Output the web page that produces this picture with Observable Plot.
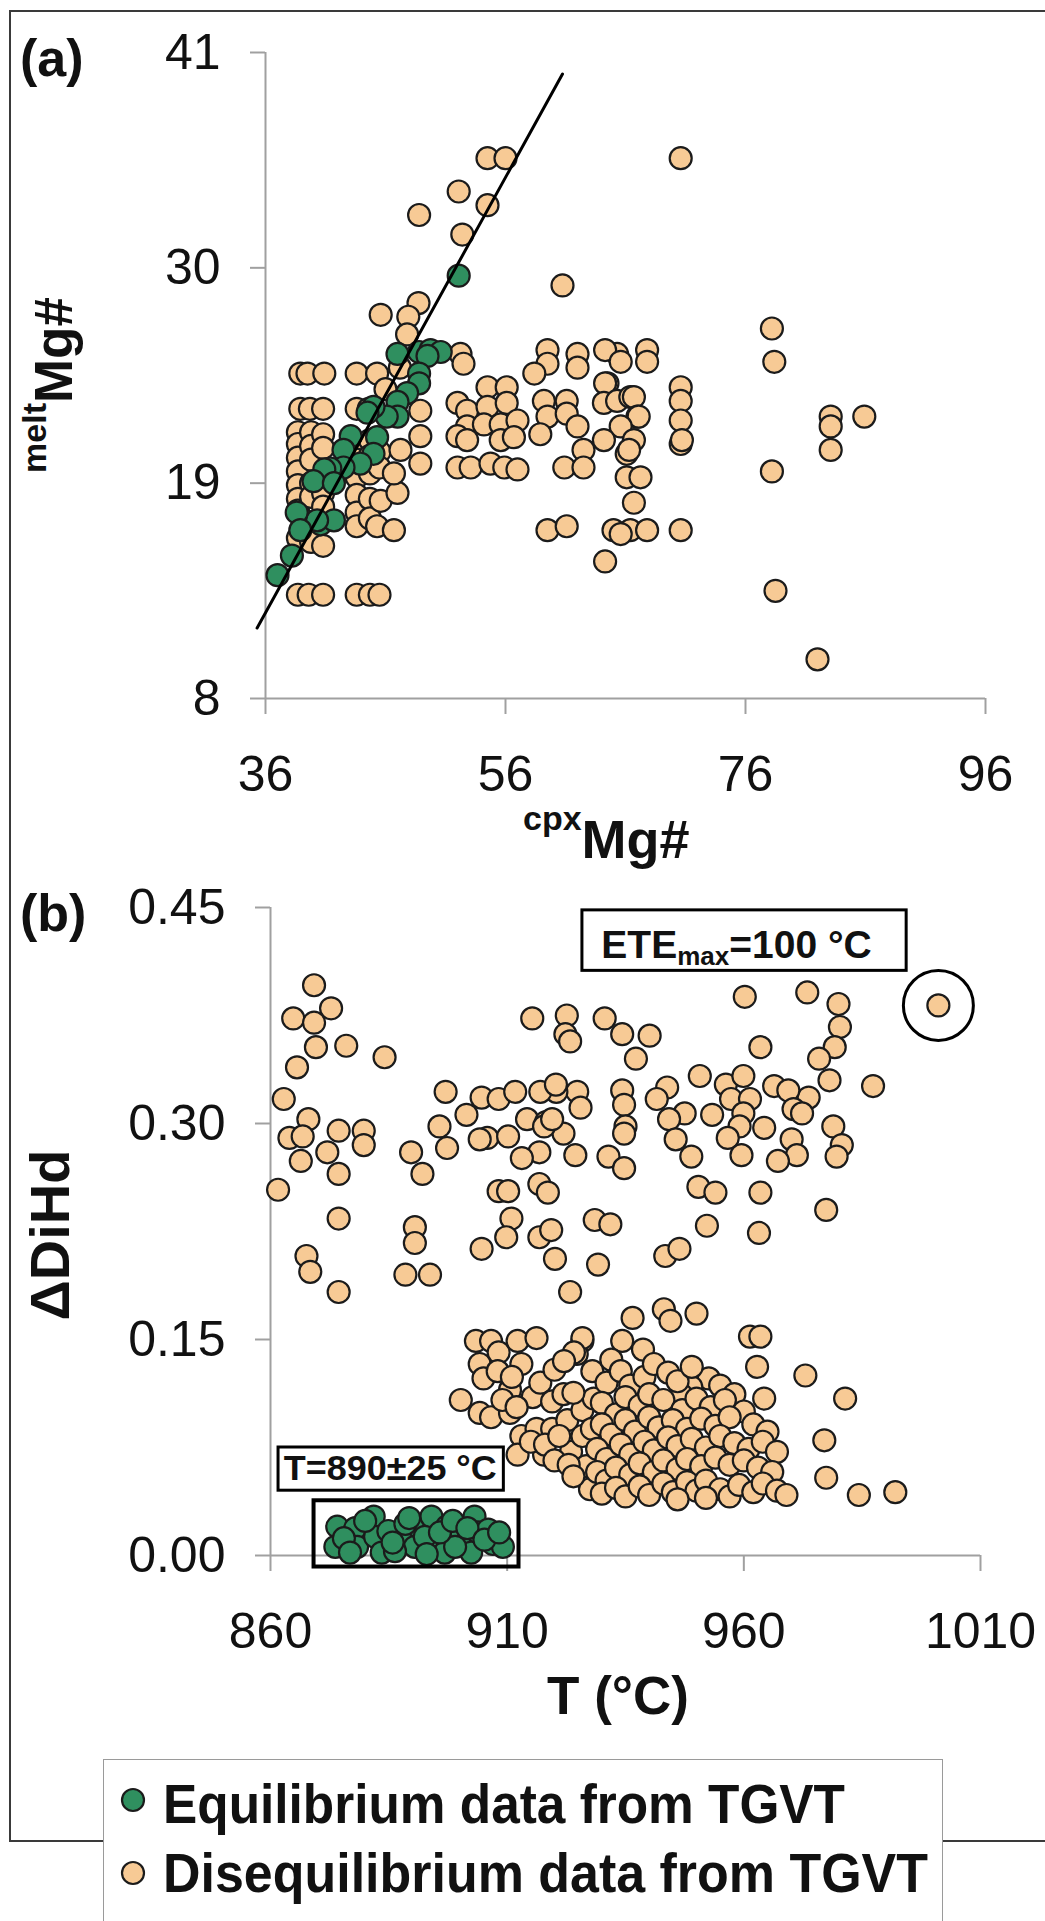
<!DOCTYPE html>
<html><head><meta charset="utf-8">
<script src="https://cdn.jsdelivr.net/npm/d3@7"></script>
<script src="https://cdn.jsdelivr.net/npm/@observablehq/plot@0.6"></script>
<style>
body{margin:0;width:1045px;height:1921px;overflow:hidden;background:#fff;position:relative;font-family:"Liberation Sans",Arial,sans-serif;}
#frame{position:absolute;left:9px;top:10px;width:1200px;height:1832px;border:2.5px solid #3a3a3a;box-sizing:border-box;}
#pa,#pb{position:absolute;left:0;}
#pa{top:0}
#pb{top:850px}
#legendBox{position:absolute;left:103px;top:1759px;width:840px;height:220px;border:1.5px solid #9a9a9a;background:#fff;box-sizing:border-box}
#overlay{position:absolute;left:0;top:0}
</style></head><body>
<div id="frame"></div>
<div id="pa"></div>
<div id="pb"></div>
<div id="legendBox"></div>
<svg id="overlay" width="1045" height="1921"></svg>
<script>
// ---------- DATA ----------
// Panel (a): [cpx Mg#, melt Mg#]
const eqA = [[52.1,29.6],[47.0,25.6],[48.8,25.7],[49.75,25.8],[50.6,25.7],[49.5,25.5],[48.8,24.6],[48.8,24.1],[47.8,23.6],[47.0,23.15],[47.0,22.4],[46.1,22.4],[45.0,22.9],[44.5,22.6],[43.1,21.4],[45.3,21.35],[42.5,20.7],[45.0,20.5],[43.9,20.0],[42.5,19.8],[41.4,19.75],[40.9,19.7],[40.0,19.1],[41.7,19.0],[39.2,17.1],[40.6,16.9],[41.7,17.1],[40.3,17.1],[38.6,17.5],[38.9,16.6],[38.2,15.3],[37.0,14.3]];
const disA = [[54.5,35.6],[56.0,35.6],[70.6,35.6],[52.1,33.9],[54.5,33.2],[48.8,32.7],[52.4,31.7],[60.75,29.1],[48.75,28.2],[45.6,27.6],[47.9,27.5],[47.8,26.6],[52.25,25.6],[52.5,25.1],[78.2,26.9],[78.4,25.2],[83.1,22.4],[83.1,21.9],[83.1,20.7],[85.9,22.4],[78.2,19.6],[78.5,13.5],[82.0,10.0],
[38.9,24.6],[39.5,24.6],[40.9,24.6],[43.6,24.6],[45.3,24.6],
[38.9,22.8],[39.7,22.8],[40.8,22.8],[43.6,22.8],[44.6,22.8],
[38.7,21.6],[38.7,21.0],[38.7,20.3],[38.7,19.6],[38.7,18.9],[38.7,18.2],[38.7,17.6],[38.7,16.2],
[39.8,21.6],[39.8,20.9],[39.8,20.2],[39.8,19.0],[39.8,18.3],[39.8,16.0],
[40.8,21.5],[40.8,20.8],[40.8,18.5],[40.8,17.8],[40.8,15.8],
[43.6,21.0],[43.6,20.2],[43.6,19.3],[43.6,18.4],[43.6,17.5],[43.6,16.8],
[44.7,21.2],[44.7,20.4],[44.7,19.5],[44.7,18.2],[44.7,17.2],
[45.5,20.6],[45.5,19.8],[45.6,18.1],[45.3,16.8],[46.7,16.6],[47.0,18.5],
[38.7,13.3],[39.6,13.3],[40.8,13.3],[43.6,13.3],[44.7,13.3],[45.5,13.3],
[48.9,22.7],[48.9,21.4],[48.9,20.0],[47.25,20.7],[46.7,19.5],[46.0,23.8],[47.2,24.9],
[54.5,23.9],[56.1,23.9],[52.0,23.1],[52.8,22.7],[54.5,22.9],[56.1,23.1],[52.8,21.9],[54.2,22.0],[55.6,22.0],[57.0,22.2],[52.0,21.4],[52.8,21.2],[55.6,21.2],[56.7,21.35],[52.0,19.8],[53.1,19.8],[54.75,20.0],[55.9,19.8],[57.0,19.7],
[59.5,25.8],[59.5,25.1],[62.0,25.6],[62.0,24.9],[65.3,25.6],[67.8,25.8],[67.8,25.2],[64.3,25.8],[65.6,25.2],[58.4,24.6],[64.5,24.1],[64.3,24.1],[59.2,23.2],[61.1,23.2],[59.5,22.4],[61.1,22.55],[58.9,21.5],[62.0,21.9],[64.2,23.1],[65.3,23.2],[66.4,23.4],[66.7,23.4],[67.0,22.4],[67.1,22.4],[65.6,21.9],[66.7,21.2],[62.5,20.7],[64.2,21.2],[60.9,19.8],[62.5,19.8],[66.1,20.5],[66.3,20.7],[66.1,19.3],[67.25,19.3],[66.7,18.0],[70.6,23.9],[70.6,23.2],[70.6,22.2],[70.6,21.0],[70.7,21.2],[59.5,16.6],[61.1,16.8],[65.0,16.6],[66.4,16.6],[67.8,16.6],[70.6,16.6],[65.6,16.4],[64.3,15.0]];
const fitLineA = [[35.3,11.6],[60.75,39.9]];
const xTicksA = [36,56,76,96];
const yTicksA = [8,19,30,41];

// Panel (b): [T (°C), ΔDiHd]
const eqB = [[874.1,0.020],[877.9,0.019],[873.7,0.006],[878.3,0.006],[881.8,0.027],[882.1,0.013],[883.5,0.002],[887.7,0.014],[890.5,0.006],[891.2,0.020],[894.0,0.027],[894.7,0.010],[897.2,0.020],[896.8,0.002],[900.3,0.013],[903.1,0.027],[903.8,0.016],[902.4,0.002],[907.0,0.008],[909.1,0.006],[884.9,0.017],[886.3,0.003],[899.0,0.006],[888.5,0.022],[906.0,0.018],
[875.5,0.012],[880.0,0.024],[885.8,0.009],[889.3,0.026],[892.6,0.013],[895.8,0.016],[898.5,0.024],[901.6,0.019],[905.2,0.011],[908.3,0.016],[876.8,0.002],[893.0,0.001]];
const disBupper = [[869.2,0.396],[872.8,0.380],[864.8,0.373],[869.2,0.370],[869.6,0.353],[876.0,0.354],[884.1,0.346],[865.6,0.339],[862.8,0.317],[868.0,0.303],[864.0,0.290],[866.8,0.291],[866.4,0.274],[872.0,0.280],[874.4,0.295],[879.7,0.295],[879.7,0.285],[874.4,0.265],[861.6,0.254],[874.4,0.234],[889.7,0.280],[892.1,0.265],[890.5,0.228],[890.5,0.217],[867.6,0.208],[868.4,0.197],[888.5,0.195],[893.7,0.195],[874.4,0.183],[897.0,0.322],[895.7,0.298],[897.3,0.283],[901.4,0.306],[904.6,0.318],[908.2,0.317],[905.8,0.290],[904.2,0.289],[908.2,0.253],[904.6,0.213],
[960.2,0.388],[973.4,0.391],[980.0,0.383],[980.3,0.367],[979.2,0.353],[975.9,0.345],[963.5,0.353],[1001.1,0.382],[915.3,0.373],[922.6,0.375],[922.3,0.362],[923.3,0.357],[930.6,0.373],[934.3,0.362],[940.1,0.361],[937.2,0.345],[987.3,0.326],[978.1,0.330],[973.7,0.318],[950.7,0.333],[956.2,0.327],[959.9,0.333],[966.4,0.326],[969.4,0.323],[943.8,0.325],[941.6,0.317],[947.5,0.307],[944.2,0.303],[945.6,0.289],[953.3,0.306],[957.3,0.317],[961.3,0.317],[959.9,0.307],[959.1,0.298],[956.6,0.290],[964.3,0.297],[970.5,0.310],[972.3,0.307],[970.1,0.289],[971.2,0.278],[967.2,0.274],[959.5,0.278],[948.9,0.277],[978.9,0.298],[980.7,0.285],[979.6,0.277],[934.3,0.323],[934.7,0.313],[935.0,0.298],[934.7,0.293],[924.8,0.322],[925.5,0.311],[920.4,0.322],[911.7,0.322],[914.2,0.303],[918.2,0.301],[910.2,0.291],[921.9,0.293],[916.8,0.280],[924.4,0.278],[913.1,0.276],[931.4,0.277],[934.7,0.269],[916.8,0.258],[918.6,0.252],[910.2,0.253],[910.9,0.234],[916.8,0.221],[919.3,0.226],[928.5,0.233],[931.8,0.230],[950.4,0.256],[954.0,0.252],[963.5,0.252],[952.2,0.229],[963.2,0.224],[977.4,0.240],[920.1,0.206],[929.2,0.202],[943.4,0.208],[946.4,0.213],[923.3,0.183],[917.0,0.322],[920.3,0.327],[917.8,0.298],[919.5,0.303],[909.8,0.221]];
const disBlower = [[936.5,0.165],[943.1,0.171],[944.5,0.163],[950.0,0.168],[961.3,0.152],[963.5,0.152],[962.8,0.131],[973.0,0.125],[964.3,0.109],[981.4,0.109],[977.0,0.080],[977.4,0.054],[984.3,0.042],[992.0,0.044],
[903.4,0.149],[906.6,0.149],[904.2,0.133],[908.2,0.141],[912.2,0.149],[916.2,0.151],[925.9,0.149],[924.7,0.140],[905.0,0.123],[910.6,0.115],[913.0,0.133],[900.2,0.108],[904.2,0.099],[906.6,0.096],[910.6,0.099],[915.4,0.110],[917.0,0.120],[919.5,0.107],[921.9,0.112],[913.0,0.083],[916.2,0.088],[919.5,0.088],[922.7,0.094],[925.9,0.101],[928.3,0.109],[912.2,0.070],[917.8,0.070],[923.5,0.072],[925.9,0.083],[927.9,0.088],[926.7,0.062],[927.5,0.046],
[925.9,0.151],[924.1,0.141],[934.3,0.149],[938.7,0.143],[952.6,0.123],[948.9,0.117],[946.7,0.112],
[908,0.128],[911,0.124],[920,0.129],[922,0.135],[928,0.128],[931,0.120],[932,0.136],[934,0.128],[936,0.118],[939,0.124],[941,0.133],[944,0.127],[946,0.121],[949,0.131],[955,0.118],[958,0.112],
[909,0.108],[912,0.103],[924,0.113],[930,0.106],[933,0.098],[935,0.110],[938,0.104],[940,0.112],[943,0.108],[947,0.101],[950,0.109],[953,0.103],[956,0.108],[960,0.100],
[915,0.079],[918,0.077],[921,0.083],[930,0.091],[932,0.084],[935,0.094],[937,0.086],[940,0.096],[942,0.089],[945,0.094],[948,0.088],[951,0.095],[954,0.090],[957,0.096],[962,0.091],[965,0.086],
[920,0.066],[923,0.063],[929,0.074],[931,0.067],[934,0.077],[936,0.070],[939,0.079],[941,0.073],[944,0.082],[946,0.076],[949,0.081],[952,0.075],[955,0.083],[958,0.078],[961,0.074],[964,0.079],[967,0.072],
[924,0.055],[929,0.058],[931,0.052],[933,0.061],[936,0.056],[938,0.064],[941,0.058],[943,0.066],[946,0.060],[948,0.067],[951,0.062],[954,0.068],[957,0.063],[960,0.066],[963,0.061],[966,0.058],
[930,0.043],[933,0.047],[935,0.041],[938,0.048],[940,0.042],[943,0.050],[945,0.044],[948,0.051],[950,0.045],[952,0.052],[955,0.046],[957,0.041],[959,0.049],[962,0.044],[964,0.050],[967,0.045],[969,0.042],[952,0.040],[946,0.039]];
const xTicksB = [860,910,960,1010];
const yTicksB = [0,0.15,0.30,0.45];
// annotation boxes (data units)
const eqBox = [{x1:869.2, x2:912.5, y1:-0.008, y2:0.038}];
const tempLabel = {x1:861.7, x2:909.3, y1:0.045, y2:0.075, tx:885.4, ty:0.052, text:"T=890±25 °C"};
const eteLabel = {x1:925.9, x2:994.4, y1:0.406, y2:0.448, tx:930, ty:0.4146};

// ---------- STYLE ----------
const tanFill = "#f7ca95", greenFill = "#2f8f5f", edge = "#1b1b1b";
const axisGray = "#a0a0a0";
const font = '"Liberation Sans", Arial, sans-serif';
const baseStyle = {fontFamily: font, fontSize: "50px", color: "#111", background: "transparent", overflow: "visible"};
const X = d => d[0], Y = d => d[1];
const plain = d => String(d);

const plotA = Plot.plot({
  width: 1045, height: 880,
  marginLeft: 265, marginRight: 60, marginTop: 52, marginBottom: 182,
  style: baseStyle,
  x: {domain: [36, 96]},
  y: {domain: [8, 41]},
  marks: [
    Plot.ruleX([36], {stroke: axisGray, strokeWidth: 2}),
    Plot.ruleY([8], {stroke: axisGray, strokeWidth: 2}),
    Plot.axisX({ticks: xTicksA, tickFormat: plain, tickSize: 16, tickPadding: 41, stroke: axisGray, strokeWidth: 2, fill: "#111", label: null, fontSize: 50}),
    Plot.axisY({ticks: yTicksA, tickFormat: plain, tickSize: 15, tickPadding: 30, stroke: axisGray, strokeWidth: 2, fill: "#111", label: null, fontSize: 50}),
    Plot.dot(disA, {x: X, y: Y, r: 11, fill: tanFill, stroke: edge, strokeWidth: 2.2}),
    Plot.dot(eqA, {x: X, y: Y, r: 11, fill: greenFill, stroke: edge, strokeWidth: 2.2}),
    Plot.line(fitLineA, {x: X, y: Y, stroke: "#000", strokeWidth: 3})
  ]
});
document.getElementById("pa").appendChild(plotA);

const disB = disBupper.concat(disBlower);
const eteMax = [disB.reduce((a, b) => (b[0] > a[0] ? b : a))];

const plotB = Plot.plot({
  width: 1045, height: 880,
  marginLeft: 270, marginRight: 65, marginTop: 57, marginBottom: 175,
  style: baseStyle,
  x: {domain: [860, 1010]},
  y: {domain: [0, 0.45]},
  marks: [
    Plot.ruleX([860], {stroke: axisGray, strokeWidth: 2}),
    Plot.ruleY([0], {stroke: axisGray, strokeWidth: 2}),
    Plot.axisX({ticks: xTicksB, tickFormat: plain, tickSize: 16, tickPadding: 41, stroke: axisGray, strokeWidth: 2, fill: "#111", label: null, fontSize: 50}),
    Plot.axisY({ticks: yTicksB, tickFormat: ".2f", tickSize: 15, tickPadding: 30, stroke: axisGray, strokeWidth: 2, fill: "#111", label: null, fontSize: 50}),
    Plot.dot(disB, {x: X, y: Y, r: 11, fill: tanFill, stroke: edge, strokeWidth: 2.2}),
    Plot.dot(eqB, {x: X, y: Y, r: 11, fill: greenFill, stroke: edge, strokeWidth: 2.2}),
    Plot.rect(eqBox, {x1: "x1", x2: "x2", y1: "y1", y2: "y2", fill: "none", stroke: "#000", strokeWidth: 4}),
    Plot.rect([tempLabel], {x1: "x1", x2: "x2", y1: "y1", y2: "y2", fill: "#fff", stroke: "#000", strokeWidth: 3}),
    Plot.rect([eteLabel], {x1: "x1", x2: "x2", y1: "y1", y2: "y2", fill: "#fff", stroke: "#000", strokeWidth: 3}),
    Plot.dot(eteMax, {x: X, y: Y, r: 35, fill: "none", stroke: "#000", strokeWidth: 3})
  ]
});
document.getElementById("pb").appendChild(plotB);

// annotation texts placed with Plot's own scales
const sx = plotB.scale("x"), sy = plotB.scale("y");
const gB = d3.select(plotB);
gB.append("text").attr("x", sx.apply(tempLabel.tx)).attr("y", sy.apply(tempLabel.ty))
  .attr("text-anchor", "middle").attr("font-family", font).attr("font-weight", "bold")
  .attr("font-size", 35).attr("textLength", 213).attr("lengthAdjust", "spacingAndGlyphs")
  .attr("fill", "#111").text(tempLabel.text);
const ete = gB.append("text").attr("x", sx.apply(eteLabel.tx)).attr("y", sy.apply(eteLabel.ty))
  .attr("text-anchor", "start").attr("font-family", font).attr("font-weight", "bold").attr("font-size", 39).attr("fill", "#111");
ete.append("tspan").text("ETE");
ete.append("tspan").attr("font-size", 26).attr("dy", 7).text("max");
ete.append("tspan").attr("dy", -7).text("=100 °C");

// ---------- TITLES, PANEL LETTERS, LEGEND ----------
const ov = d3.select("#overlay");
const g = ov.append("g").attr("font-family", font).attr("font-weight", "bold").attr("fill", "#111");
g.append("text").attr("x", 20).attr("y", 76).attr("font-size", 52).text("(a)");
g.append("text").attr("x", 20).attr("y", 931).attr("font-size", 52).text("(b)");
const xa = g.append("text").attr("x", 523).attr("y", 858).attr("font-size", 54);
xa.append("tspan").attr("font-size", 34).attr("dy", -28).text("cpx");
xa.append("tspan").attr("dy", 28).text("Mg#");
g.append("text").attr("x", 618).attr("y", 1714).attr("text-anchor", "middle").attr("font-size", 53).text("T (°C)");
const ya = g.append("text").attr("transform", "translate(72,385) rotate(-90)").attr("text-anchor", "middle").attr("font-size", 53);
ya.append("tspan").attr("font-size", 34).attr("dy", -26).text("melt");
ya.append("tspan").attr("dy", 26).text("Mg#");
g.append("text").attr("transform", "translate(69,1235) rotate(-90)").attr("text-anchor", "middle").attr("font-size", 56).text("ΔDiHd");

const legendItems = [
  {label: "Equilibrium data from TGVT", fill: greenFill, cy: 1800, base: 1823, len: 682},
  {label: "Disequilibrium data from TGVT", fill: tanFill, cy: 1873, base: 1892, len: 765}
];
legendItems.forEach(it => {
  g.append("circle").attr("cx", 133).attr("cy", it.cy).attr("r", 11).attr("fill", it.fill).attr("stroke", edge).attr("stroke-width", 2.2);
  g.append("text").attr("x", 163).attr("y", it.base).attr("font-size", 55)
    .attr("textLength", it.len).attr("lengthAdjust", "spacingAndGlyphs").text(it.label);
});
</script>
</body></html>
